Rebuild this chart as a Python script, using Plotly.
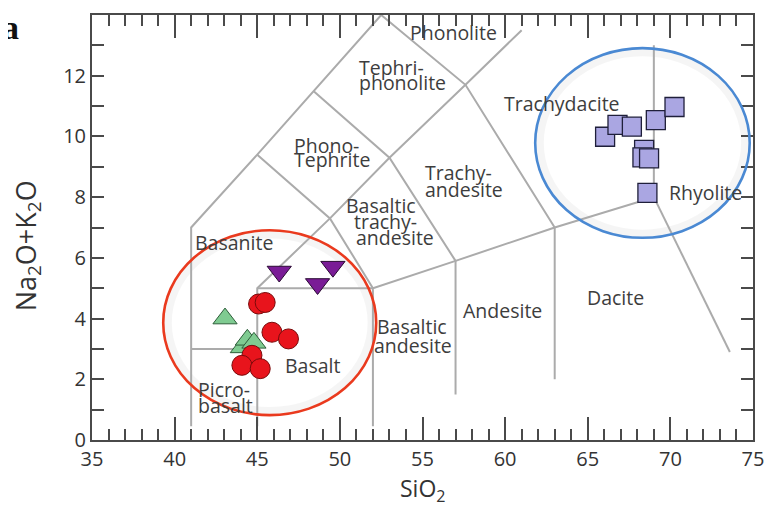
import plotly.graph_objects as go

# ---------------- data ----------------
# TAS field boundaries (SiO2, Na2O+K2O), polylines
bnd_1_x = [41, 41, 45, 48.4, 52.5]
bnd_1_y = [0.45, 7, 9.4, 11.5, 14]
bnd_2_x = [41, 45]
bnd_2_y = [3, 3]
bnd_3_x = [45, 45, 49.4, 53, 57.6, 61]
bnd_3_y = [0.45, 5, 7.3, 9.3, 11.7, 13.5]
bnd_4_x = [45, 52]
bnd_4_y = [5, 5]
bnd_5_x = [52, 52, 57, 63, 69, 69]
bnd_5_y = [0.45, 5, 5.9, 7, 8, 13]
bnd_6_x = [45, 49.4, 52]
bnd_6_y = [9.4, 7.3, 5]
bnd_7_x = [48.4, 53, 57, 57]
bnd_7_y = [11.5, 9.3, 5.9, 1.5]
bnd_8_x = [52.5, 57.6, 63, 63]
bnd_8_y = [14, 11.7, 7, 2]
bnd_9_x = [69, 73.6]
bnd_9_y = [8, 2.9]
boundaries = [(bnd_1_x, bnd_1_y), (bnd_2_x, bnd_2_y), (bnd_3_x, bnd_3_y),
              (bnd_4_x, bnd_4_y), (bnd_5_x, bnd_5_y), (bnd_6_x, bnd_6_y),
              (bnd_7_x, bnd_7_y), (bnd_8_x, bnd_8_y), (bnd_9_x, bnd_9_y)]

# samples
red_x = [45.08, 45.48, 45.89, 46.89, 44.68, 44.07, 45.18]
red_y = [4.48, 4.53, 3.55, 3.33, 2.79, 2.46, 2.35]
green_x = [43.05, 44.1, 44.4, 44.8]
green_y = [4.0, 3.05, 3.3, 3.2]
purple_x = [46.33, 49.58, 48.65]
purple_y = [5.55, 5.71, 5.14]
square_x = [66.05, 66.80, 67.67, 69.12, 70.25, 68.41, 68.31, 68.71, 68.61]
square_y = [9.99, 10.38, 10.32, 10.54, 10.97, 9.56, 9.31, 9.28, 8.14]

# field labels: text, x, y, anchor
label_text = ["Phonolite", "Tephri-", "phonolite", "Phono-", "Tephrite",
              "Trachy-", "andesite", "Basaltic", "trachy-", "andesite",
              "Trachydacite", "Rhyolite", "Dacite", "Andesite",
              "Basaltic", "andesite", "Basalt", "Basanite", "Picro-", "basalt"]
label_x = [56.88, 51.03, 51.03, 47.13, 47.13,
           55.02, 55.02, 50.22, 50.73, 50.83,
           63.43, 72.15, 66.66, 59.85,
           52.14, 51.95, 48.34, 43.57, 41.31, 41.31]
label_y = [13.43, 12.28, 11.78, 9.70, 9.24,
           8.80, 8.24, 7.73, 7.21, 6.68,
           11.08, 8.14, 4.69, 4.26,
           3.75, 3.10, 2.46, 6.50, 1.67, 1.13]
label_anchor = ["center", "left", "left", "left", "left",
                "left", "left", "left", "left", "left",
                "center", "center", "center", "center",
                "left", "left", "center", "center", "left", "left"]

# group ellipses (x0, x1, y0, y1)
red_ell = [39.31, 52.2, 0.82, 6.91]
blue_ell = [61.82, 74.8, 6.66, 12.91]

x_ticks = [35, 40, 45, 50, 55, 60, 65, 70, 75]
y_ticks = [0, 2, 4, 6, 8, 10, 12, 14]

# ---------------- figure ----------------
fig = go.Figure()
gray = "#ababab"
for bx, by in boundaries:
    fig.add_trace(go.Scatter(x=bx, y=by, mode="lines",
                             line=dict(color=gray, width=2),
                             hoverinfo="skip", showlegend=False))

fig.add_trace(go.Scatter(x=square_x, y=square_y, mode="markers",
                         marker=dict(symbol="square", size=19, color="#aaa6e2",
                                     line=dict(color="#1f1f3a", width=1.3)),
                         showlegend=False))
fig.add_trace(go.Scatter(x=purple_x, y=purple_y, mode="markers",
                         marker=dict(symbol="triangle-down", size=21, color="#7a1c96",
                                     line=dict(color="#2a0a33", width=1)),
                         showlegend=False))
fig.add_trace(go.Scatter(x=green_x, y=green_y, mode="markers",
                         marker=dict(symbol="triangle-up", size=21, color="#7fcb91",
                                     line=dict(color="#2e5e3a", width=1)),
                         showlegend=False))
fig.add_trace(go.Scatter(x=red_x, y=red_y, mode="markers",
                         marker=dict(symbol="circle", size=20, color="#e8141c",
                                     line=dict(color="#7a0a0a", width=1)),
                         showlegend=False))

# ellipses with soft halo
for ell, col in [(red_ell, "#ea3a1e"), (blue_ell, "#4a89d3")]:
    fig.add_shape(type="circle", xref="x", yref="y",
                  x0=ell[0] + 0.25, x1=ell[1] - 0.25, y0=ell[2] + 0.12, y1=ell[3] - 0.12,
                  line=dict(color="rgba(0,0,0,0.04)", width=9), layer="below")
    fig.add_shape(type="circle", xref="x", yref="y",
                  x0=ell[0], x1=ell[1], y0=ell[2], y1=ell[3],
                  line=dict(color=col, width=2.6))

for t, x, y, a in zip(label_text, label_x, label_y, label_anchor):
    fig.add_annotation(x=x, y=y, xref="x", yref="y", text=t, showarrow=False,
                       xanchor=a, yanchor="middle",
                       font=dict(family="Open Sans", size=19.5, color="#3d3d3d"))

# axis titles and panel letter
fig.add_annotation(x=0.5, y=-0.117, xref="paper", yref="paper", text="SiO<sub>2</sub>",
                   showarrow=False, xanchor="center", yanchor="middle",
                   font=dict(family="Open Sans", size=23, color="#333333"))
fig.add_annotation(x=-0.0975, y=0.457, xref="paper", yref="paper",
                   text="Na<sub>2</sub>O+K<sub>2</sub>O", textangle=-90,
                   showarrow=False, xanchor="center", yanchor="middle",
                   font=dict(family="Open Sans", size=27, color="#333333"))
fig.add_annotation(x=-0.108, y=0.970, xref="paper", yref="paper", text="<b>ka</b>",
                   showarrow=False, xanchor="right", yanchor="middle",
                   font=dict(family="Liberation Serif", size=34, color="#111111"))

axis_common = dict(showline=True, linecolor="#4a4a4a", linewidth=2, mirror="ticks",
                   ticks="inside", tickcolor="#4a4a4a", tickwidth=1.5,
                   showgrid=False, zeroline=False,
                   tickfont=dict(family="Open Sans", size=20, color="#333333"))
fig.update_xaxes(range=[35, 75], tickvals=x_ticks, ticklen=23,
                 minor=dict(dtick=1, ticklen=11, ticks="inside", tickcolor="#4a4a4a",
                            tickwidth=1.5, showgrid=False),
                 **axis_common)
fig.update_yaxes(range=[0, 14], tickvals=y_ticks, ticklen=12,
                 minor=dict(dtick=1, ticklen=12, ticks="inside", tickcolor="#4a4a4a",
                            tickwidth=1.5, showgrid=False),
                 **axis_common)

fig.update_layout(width=770, height=500, plot_bgcolor="white", paper_bgcolor="white",
                  margin=dict(l=84, r=25, t=5, b=68), showlegend=False)

fig.write_html("out.html")
